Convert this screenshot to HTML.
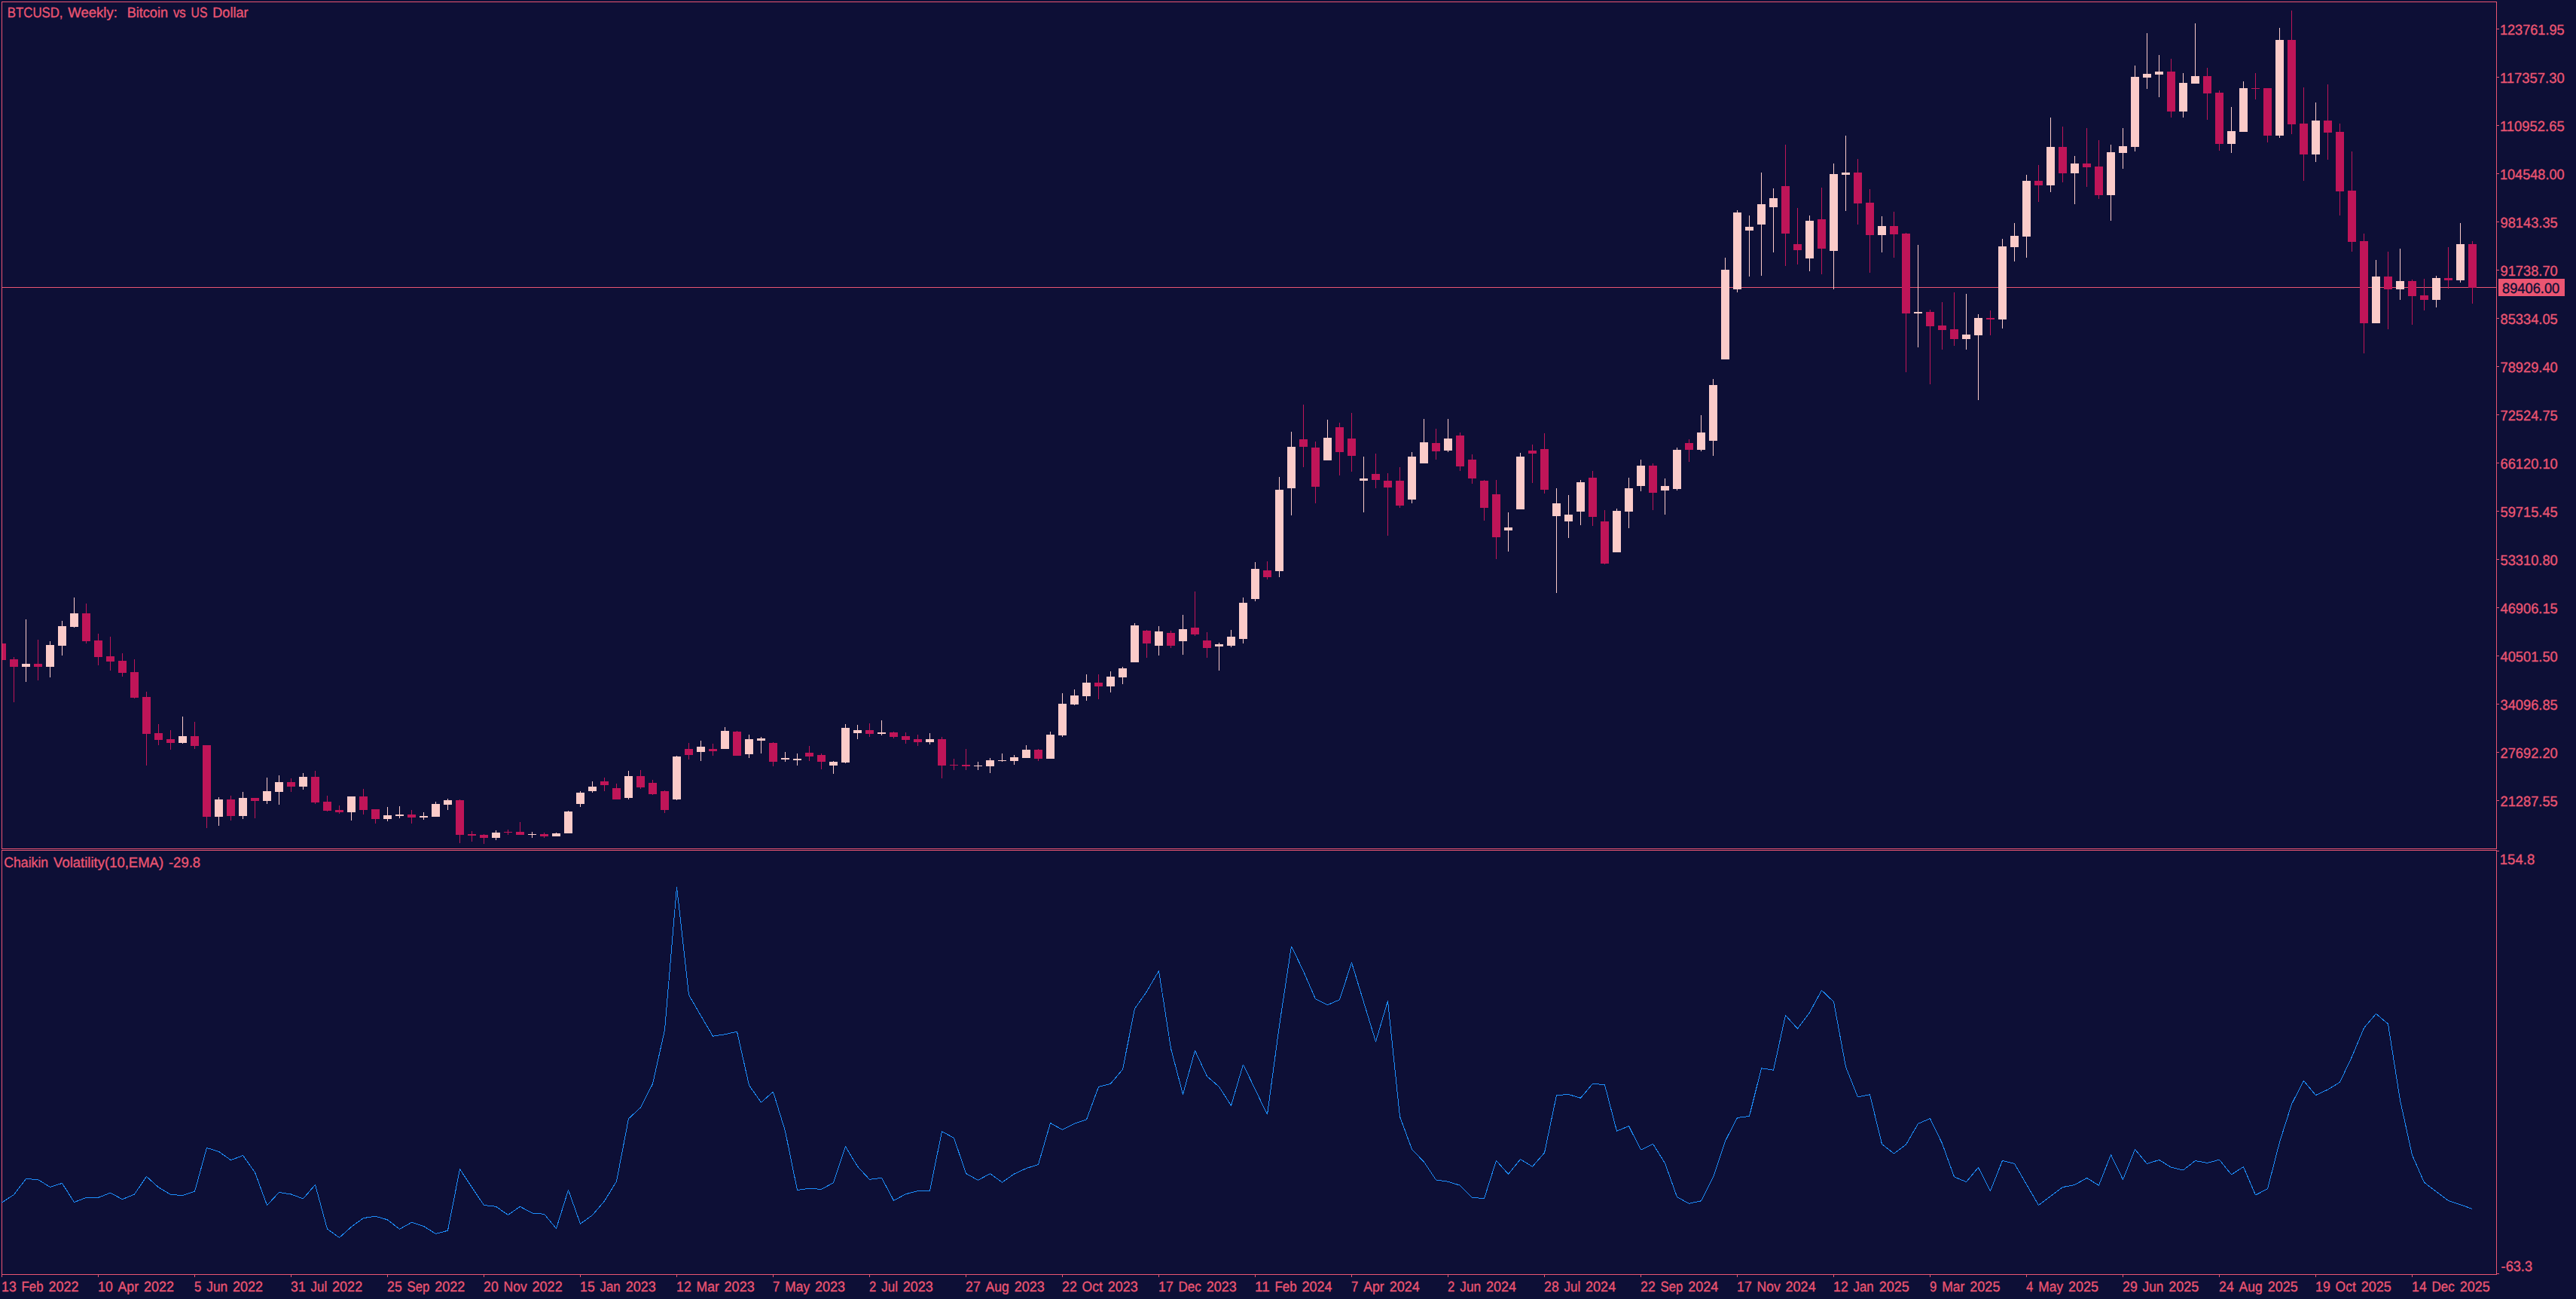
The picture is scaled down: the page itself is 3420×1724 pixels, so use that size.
<!DOCTYPE html>
<html><head><meta charset="utf-8"><title>BTCUSD, Weekly</title>
<style>html,body{margin:0;padding:0;background:#0d0f36;overflow:hidden}svg{display:block}text{font-family:"Liberation Sans",sans-serif;font-size:19.0px;fill:#ea5572;stroke:#ea5572;stroke-width:0.35px;white-space:pre;text-rendering:geometricPrecision}</style>
</head><body>
<svg width="3420" height="1724" viewBox="0 0 3420 1724">
<rect x="0" y="0" width="3420" height="1724" fill="#0d0f36"/>
<g fill="#ea5572" shape-rendering="crispEdges">
<rect x="2" y="2" width="3313" height="1"/>
<rect x="2" y="2" width="1" height="1125"/>
<rect x="3314" y="2" width="1" height="1125"/>
<rect x="2" y="1126" width="3313" height="1"/>
<rect x="2" y="1128" width="3313" height="1"/>
<rect x="2" y="1128" width="1" height="564"/>
<rect x="3314" y="1128" width="1" height="564"/>
<rect x="2" y="1691" width="3313" height="1"/>
<rect x="3" y="381" width="3311" height="1"/>
<rect x="3315" y="38" width="3" height="1"/>
<rect x="3315" y="102" width="3" height="1"/>
<rect x="3315" y="166" width="3" height="1"/>
<rect x="3315" y="230" width="3" height="1"/>
<rect x="3315" y="294" width="3" height="1"/>
<rect x="3315" y="358" width="3" height="1"/>
<rect x="3315" y="422" width="3" height="1"/>
<rect x="3315" y="486" width="3" height="1"/>
<rect x="3315" y="550" width="3" height="1"/>
<rect x="3315" y="614" width="3" height="1"/>
<rect x="3315" y="678" width="3" height="1"/>
<rect x="3315" y="742" width="3" height="1"/>
<rect x="3315" y="806" width="3" height="1"/>
<rect x="3315" y="870" width="3" height="1"/>
<rect x="3315" y="934" width="3" height="1"/>
<rect x="3315" y="998" width="3" height="1"/>
<rect x="3315" y="1062" width="3" height="1"/>
<rect x="3315" y="1129" width="3" height="1"/>
<rect x="3315" y="1690" width="3" height="1"/>
<rect x="2" y="1692" width="1" height="3"/>
<rect x="130" y="1692" width="1" height="3"/>
<rect x="258" y="1692" width="1" height="3"/>
<rect x="386" y="1692" width="1" height="3"/>
<rect x="514" y="1692" width="1" height="3"/>
<rect x="642" y="1692" width="1" height="3"/>
<rect x="770" y="1692" width="1" height="3"/>
<rect x="898" y="1692" width="1" height="3"/>
<rect x="1026" y="1692" width="1" height="3"/>
<rect x="1154" y="1692" width="1" height="3"/>
<rect x="1282" y="1692" width="1" height="3"/>
<rect x="1410" y="1692" width="1" height="3"/>
<rect x="1538" y="1692" width="1" height="3"/>
<rect x="1666" y="1692" width="1" height="3"/>
<rect x="1794" y="1692" width="1" height="3"/>
<rect x="1922" y="1692" width="1" height="3"/>
<rect x="2050" y="1692" width="1" height="3"/>
<rect x="2178" y="1692" width="1" height="3"/>
<rect x="2306" y="1692" width="1" height="3"/>
<rect x="2434" y="1692" width="1" height="3"/>
<rect x="2562" y="1692" width="1" height="3"/>
<rect x="2690" y="1692" width="1" height="3"/>
<rect x="2818" y="1692" width="1" height="3"/>
<rect x="2946" y="1692" width="1" height="3"/>
<rect x="3074" y="1692" width="1" height="3"/>
<rect x="3202" y="1692" width="1" height="3"/>
<rect x="3317" y="370" width="88" height="23"/>
</g>
<g fill="#fbcbc9" shape-rendering="crispEdges">
<rect x="34" y="822" width="1" height="83"/>
<rect x="29" y="881" width="11" height="4"/>
<rect x="66" y="851" width="1" height="48"/>
<rect x="61" y="856" width="11" height="29"/>
<rect x="82" y="824" width="1" height="46"/>
<rect x="77" y="831" width="11" height="26"/>
<rect x="98" y="793" width="1" height="40"/>
<rect x="93" y="814" width="11" height="18"/>
<rect x="242" y="951" width="1" height="36"/>
<rect x="237" y="977" width="11" height="9"/>
<rect x="290" y="1058" width="1" height="38"/>
<rect x="285" y="1061" width="11" height="23"/>
<rect x="322" y="1051" width="1" height="36"/>
<rect x="317" y="1059" width="11" height="24"/>
<rect x="354" y="1032" width="1" height="35"/>
<rect x="349" y="1050" width="11" height="13"/>
<rect x="370" y="1029" width="1" height="39"/>
<rect x="365" y="1038" width="11" height="13"/>
<rect x="402" y="1026" width="1" height="22"/>
<rect x="397" y="1031" width="11" height="13"/>
<rect x="466" y="1057" width="1" height="32"/>
<rect x="461" y="1057" width="11" height="21"/>
<rect x="514" y="1071" width="1" height="19"/>
<rect x="509" y="1082" width="11" height="5"/>
<rect x="530" y="1070" width="1" height="16"/>
<rect x="525" y="1081" width="11" height="2"/>
<rect x="562" y="1078" width="1" height="10"/>
<rect x="557" y="1083" width="11" height="2"/>
<rect x="578" y="1064" width="1" height="20"/>
<rect x="573" y="1067" width="11" height="17"/>
<rect x="594" y="1060" width="1" height="15"/>
<rect x="589" y="1062" width="11" height="6"/>
<rect x="658" y="1102" width="1" height="13"/>
<rect x="653" y="1105" width="11" height="7"/>
<rect x="706" y="1104" width="1" height="8"/>
<rect x="701" y="1107" width="11" height="1"/>
<rect x="738" y="1105" width="1" height="5"/>
<rect x="733" y="1106" width="11" height="4"/>
<rect x="754" y="1076" width="1" height="30"/>
<rect x="749" y="1077" width="11" height="29"/>
<rect x="770" y="1050" width="1" height="21"/>
<rect x="765" y="1052" width="11" height="15"/>
<rect x="786" y="1037" width="1" height="15"/>
<rect x="781" y="1044" width="11" height="6"/>
<rect x="834" y="1023" width="1" height="38"/>
<rect x="829" y="1030" width="11" height="29"/>
<rect x="898" y="1003" width="1" height="59"/>
<rect x="893" y="1004" width="11" height="57"/>
<rect x="930" y="983" width="1" height="27"/>
<rect x="925" y="991" width="11" height="7"/>
<rect x="962" y="965" width="1" height="29"/>
<rect x="957" y="970" width="11" height="24"/>
<rect x="994" y="975" width="1" height="31"/>
<rect x="989" y="981" width="11" height="20"/>
<rect x="1010" y="978" width="1" height="22"/>
<rect x="1005" y="980" width="11" height="3"/>
<rect x="1042" y="998" width="1" height="13"/>
<rect x="1037" y="1006" width="11" height="2"/>
<rect x="1058" y="1000" width="1" height="16"/>
<rect x="1053" y="1007" width="11" height="2"/>
<rect x="1106" y="1010" width="1" height="17"/>
<rect x="1101" y="1011" width="11" height="5"/>
<rect x="1122" y="961" width="1" height="52"/>
<rect x="1117" y="966" width="11" height="46"/>
<rect x="1138" y="962" width="1" height="19"/>
<rect x="1133" y="969" width="11" height="4"/>
<rect x="1170" y="956" width="1" height="20"/>
<rect x="1165" y="972" width="11" height="2"/>
<rect x="1234" y="973" width="1" height="15"/>
<rect x="1229" y="981" width="11" height="4"/>
<rect x="1298" y="1011" width="1" height="11"/>
<rect x="1293" y="1016" width="11" height="1"/>
<rect x="1314" y="1006" width="1" height="20"/>
<rect x="1309" y="1009" width="11" height="8"/>
<rect x="1330" y="1000" width="1" height="11"/>
<rect x="1325" y="1009" width="11" height="1"/>
<rect x="1346" y="1002" width="1" height="13"/>
<rect x="1341" y="1005" width="11" height="5"/>
<rect x="1362" y="989" width="1" height="17"/>
<rect x="1357" y="995" width="11" height="11"/>
<rect x="1394" y="971" width="1" height="36"/>
<rect x="1389" y="975" width="11" height="32"/>
<rect x="1410" y="920" width="1" height="58"/>
<rect x="1405" y="934" width="11" height="42"/>
<rect x="1426" y="915" width="1" height="21"/>
<rect x="1421" y="923" width="11" height="12"/>
<rect x="1442" y="895" width="1" height="35"/>
<rect x="1437" y="906" width="11" height="18"/>
<rect x="1474" y="891" width="1" height="28"/>
<rect x="1469" y="898" width="11" height="13"/>
<rect x="1490" y="885" width="1" height="23"/>
<rect x="1485" y="887" width="11" height="12"/>
<rect x="1506" y="827" width="1" height="52"/>
<rect x="1501" y="830" width="11" height="49"/>
<rect x="1538" y="831" width="1" height="39"/>
<rect x="1533" y="838" width="11" height="19"/>
<rect x="1570" y="816" width="1" height="53"/>
<rect x="1565" y="835" width="11" height="16"/>
<rect x="1618" y="853" width="1" height="37"/>
<rect x="1613" y="855" width="11" height="3"/>
<rect x="1634" y="836" width="1" height="23"/>
<rect x="1629" y="845" width="11" height="12"/>
<rect x="1650" y="793" width="1" height="61"/>
<rect x="1645" y="800" width="11" height="48"/>
<rect x="1666" y="746" width="1" height="52"/>
<rect x="1661" y="755" width="11" height="40"/>
<rect x="1698" y="633" width="1" height="133"/>
<rect x="1693" y="650" width="11" height="108"/>
<rect x="1714" y="573" width="1" height="111"/>
<rect x="1709" y="593" width="11" height="55"/>
<rect x="1762" y="557" width="1" height="54"/>
<rect x="1757" y="581" width="11" height="30"/>
<rect x="1810" y="606" width="1" height="74"/>
<rect x="1805" y="635" width="11" height="3"/>
<rect x="1874" y="600" width="1" height="68"/>
<rect x="1869" y="606" width="11" height="57"/>
<rect x="1890" y="556" width="1" height="59"/>
<rect x="1885" y="587" width="11" height="28"/>
<rect x="1922" y="556" width="1" height="44"/>
<rect x="1917" y="582" width="11" height="16"/>
<rect x="2002" y="680" width="1" height="52"/>
<rect x="1997" y="700" width="11" height="4"/>
<rect x="2018" y="601" width="1" height="75"/>
<rect x="2013" y="606" width="11" height="70"/>
<rect x="2066" y="648" width="1" height="139"/>
<rect x="2061" y="668" width="11" height="17"/>
<rect x="2082" y="657" width="1" height="57"/>
<rect x="2077" y="683" width="11" height="9"/>
<rect x="2098" y="637" width="1" height="60"/>
<rect x="2093" y="640" width="11" height="39"/>
<rect x="2146" y="675" width="1" height="58"/>
<rect x="2141" y="678" width="11" height="55"/>
<rect x="2162" y="634" width="1" height="67"/>
<rect x="2157" y="648" width="11" height="31"/>
<rect x="2178" y="610" width="1" height="42"/>
<rect x="2173" y="618" width="11" height="27"/>
<rect x="2210" y="635" width="1" height="48"/>
<rect x="2205" y="645" width="11" height="6"/>
<rect x="2226" y="594" width="1" height="57"/>
<rect x="2221" y="597" width="11" height="52"/>
<rect x="2258" y="551" width="1" height="48"/>
<rect x="2253" y="574" width="11" height="23"/>
<rect x="2274" y="503" width="1" height="102"/>
<rect x="2269" y="511" width="11" height="74"/>
<rect x="2290" y="342" width="1" height="135"/>
<rect x="2285" y="358" width="11" height="119"/>
<rect x="2306" y="279" width="1" height="109"/>
<rect x="2301" y="282" width="11" height="102"/>
<rect x="2322" y="286" width="1" height="81"/>
<rect x="2317" y="301" width="11" height="5"/>
<rect x="2338" y="229" width="1" height="137"/>
<rect x="2333" y="271" width="11" height="27"/>
<rect x="2354" y="250" width="1" height="85"/>
<rect x="2349" y="263" width="11" height="12"/>
<rect x="2402" y="286" width="1" height="74"/>
<rect x="2397" y="293" width="11" height="50"/>
<rect x="2434" y="217" width="1" height="167"/>
<rect x="2429" y="231" width="11" height="102"/>
<rect x="2450" y="180" width="1" height="100"/>
<rect x="2445" y="229" width="11" height="3"/>
<rect x="2498" y="287" width="1" height="48"/>
<rect x="2493" y="300" width="11" height="12"/>
<rect x="2546" y="325" width="1" height="136"/>
<rect x="2541" y="414" width="11" height="2"/>
<rect x="2610" y="390" width="1" height="74"/>
<rect x="2605" y="444" width="11" height="6"/>
<rect x="2626" y="417" width="1" height="114"/>
<rect x="2621" y="422" width="11" height="23"/>
<rect x="2658" y="317" width="1" height="119"/>
<rect x="2653" y="327" width="11" height="97"/>
<rect x="2674" y="296" width="1" height="51"/>
<rect x="2669" y="313" width="11" height="15"/>
<rect x="2690" y="232" width="1" height="110"/>
<rect x="2685" y="240" width="11" height="74"/>
<rect x="2722" y="156" width="1" height="99"/>
<rect x="2717" y="195" width="11" height="51"/>
<rect x="2754" y="207" width="1" height="64"/>
<rect x="2749" y="217" width="11" height="13"/>
<rect x="2802" y="192" width="1" height="101"/>
<rect x="2797" y="202" width="11" height="57"/>
<rect x="2818" y="170" width="1" height="54"/>
<rect x="2813" y="194" width="11" height="9"/>
<rect x="2834" y="87" width="1" height="114"/>
<rect x="2829" y="102" width="11" height="93"/>
<rect x="2850" y="44" width="1" height="74"/>
<rect x="2845" y="98" width="11" height="5"/>
<rect x="2866" y="73" width="1" height="56"/>
<rect x="2861" y="95" width="11" height="4"/>
<rect x="2898" y="97" width="1" height="59"/>
<rect x="2893" y="110" width="11" height="38"/>
<rect x="2914" y="31" width="1" height="80"/>
<rect x="2909" y="101" width="11" height="10"/>
<rect x="2962" y="142" width="1" height="61"/>
<rect x="2957" y="174" width="11" height="17"/>
<rect x="2978" y="108" width="1" height="67"/>
<rect x="2973" y="117" width="11" height="58"/>
<rect x="3026" y="37" width="1" height="146"/>
<rect x="3021" y="53" width="11" height="127"/>
<rect x="3074" y="136" width="1" height="79"/>
<rect x="3069" y="160" width="11" height="45"/>
<rect x="3154" y="345" width="1" height="84"/>
<rect x="3149" y="367" width="11" height="62"/>
<rect x="3186" y="330" width="1" height="68"/>
<rect x="3181" y="373" width="11" height="11"/>
<rect x="3234" y="366" width="1" height="42"/>
<rect x="3229" y="369" width="11" height="29"/>
<rect x="3266" y="296" width="1" height="79"/>
<rect x="3261" y="324" width="11" height="48"/>
</g>
<g fill="#bf1558" shape-rendering="crispEdges">
<rect x="3" y="854" width="5" height="22"/>
<rect x="18" y="872" width="1" height="60"/>
<rect x="13" y="875" width="11" height="10"/>
<rect x="50" y="849" width="1" height="54"/>
<rect x="45" y="881" width="11" height="4"/>
<rect x="114" y="801" width="1" height="53"/>
<rect x="109" y="814" width="11" height="37"/>
<rect x="130" y="841" width="1" height="42"/>
<rect x="125" y="850" width="11" height="22"/>
<rect x="146" y="845" width="1" height="45"/>
<rect x="141" y="871" width="11" height="7"/>
<rect x="162" y="867" width="1" height="31"/>
<rect x="157" y="877" width="11" height="16"/>
<rect x="178" y="875" width="1" height="52"/>
<rect x="173" y="892" width="11" height="34"/>
<rect x="194" y="918" width="1" height="98"/>
<rect x="189" y="925" width="11" height="49"/>
<rect x="210" y="961" width="1" height="28"/>
<rect x="205" y="973" width="11" height="9"/>
<rect x="226" y="969" width="1" height="26"/>
<rect x="221" y="981" width="11" height="5"/>
<rect x="258" y="958" width="1" height="36"/>
<rect x="253" y="977" width="11" height="13"/>
<rect x="274" y="989" width="1" height="110"/>
<rect x="269" y="989" width="11" height="95"/>
<rect x="306" y="1056" width="1" height="33"/>
<rect x="301" y="1061" width="11" height="22"/>
<rect x="338" y="1059" width="1" height="27"/>
<rect x="333" y="1059" width="11" height="4"/>
<rect x="386" y="1033" width="1" height="18"/>
<rect x="381" y="1038" width="11" height="6"/>
<rect x="418" y="1023" width="1" height="44"/>
<rect x="413" y="1031" width="11" height="34"/>
<rect x="434" y="1056" width="1" height="21"/>
<rect x="429" y="1064" width="11" height="12"/>
<rect x="450" y="1069" width="1" height="11"/>
<rect x="445" y="1075" width="11" height="3"/>
<rect x="482" y="1047" width="1" height="34"/>
<rect x="477" y="1057" width="11" height="18"/>
<rect x="498" y="1074" width="1" height="19"/>
<rect x="493" y="1074" width="11" height="13"/>
<rect x="546" y="1075" width="1" height="18"/>
<rect x="541" y="1081" width="11" height="4"/>
<rect x="610" y="1061" width="1" height="58"/>
<rect x="605" y="1062" width="11" height="46"/>
<rect x="626" y="1103" width="1" height="14"/>
<rect x="621" y="1107" width="11" height="2"/>
<rect x="642" y="1107" width="1" height="13"/>
<rect x="637" y="1108" width="11" height="4"/>
<rect x="674" y="1101" width="1" height="7"/>
<rect x="669" y="1104" width="11" height="1"/>
<rect x="690" y="1091" width="1" height="17"/>
<rect x="685" y="1104" width="11" height="4"/>
<rect x="722" y="1105" width="1" height="7"/>
<rect x="717" y="1107" width="11" height="3"/>
<rect x="802" y="1032" width="1" height="18"/>
<rect x="797" y="1037" width="11" height="5"/>
<rect x="818" y="1040" width="1" height="21"/>
<rect x="813" y="1046" width="11" height="15"/>
<rect x="850" y="1022" width="1" height="25"/>
<rect x="845" y="1030" width="11" height="15"/>
<rect x="866" y="1035" width="1" height="20"/>
<rect x="861" y="1039" width="11" height="15"/>
<rect x="882" y="1049" width="1" height="30"/>
<rect x="877" y="1050" width="11" height="25"/>
<rect x="914" y="986" width="1" height="22"/>
<rect x="909" y="994" width="11" height="8"/>
<rect x="946" y="987" width="1" height="16"/>
<rect x="941" y="994" width="11" height="3"/>
<rect x="978" y="970" width="1" height="33"/>
<rect x="973" y="971" width="11" height="32"/>
<rect x="1026" y="985" width="1" height="32"/>
<rect x="1021" y="986" width="11" height="25"/>
<rect x="1074" y="990" width="1" height="20"/>
<rect x="1069" y="999" width="11" height="5"/>
<rect x="1090" y="1000" width="1" height="21"/>
<rect x="1085" y="1002" width="11" height="9"/>
<rect x="1154" y="960" width="1" height="18"/>
<rect x="1149" y="969" width="11" height="5"/>
<rect x="1186" y="971" width="1" height="9"/>
<rect x="1181" y="972" width="11" height="6"/>
<rect x="1202" y="972" width="1" height="15"/>
<rect x="1197" y="977" width="11" height="5"/>
<rect x="1218" y="975" width="1" height="15"/>
<rect x="1213" y="981" width="11" height="4"/>
<rect x="1250" y="978" width="1" height="55"/>
<rect x="1245" y="981" width="11" height="35"/>
<rect x="1266" y="1007" width="1" height="15"/>
<rect x="1261" y="1015" width="11" height="1"/>
<rect x="1282" y="994" width="1" height="28"/>
<rect x="1277" y="1015" width="11" height="2"/>
<rect x="1378" y="994" width="1" height="16"/>
<rect x="1373" y="995" width="11" height="12"/>
<rect x="1458" y="895" width="1" height="33"/>
<rect x="1453" y="906" width="11" height="5"/>
<rect x="1522" y="836" width="1" height="37"/>
<rect x="1517" y="837" width="11" height="17"/>
<rect x="1554" y="837" width="1" height="23"/>
<rect x="1549" y="840" width="11" height="17"/>
<rect x="1586" y="785" width="1" height="59"/>
<rect x="1581" y="833" width="11" height="9"/>
<rect x="1602" y="839" width="1" height="34"/>
<rect x="1597" y="850" width="11" height="10"/>
<rect x="1682" y="745" width="1" height="24"/>
<rect x="1677" y="757" width="11" height="9"/>
<rect x="1730" y="537" width="1" height="83"/>
<rect x="1725" y="583" width="11" height="10"/>
<rect x="1746" y="586" width="1" height="82"/>
<rect x="1741" y="594" width="11" height="52"/>
<rect x="1778" y="561" width="1" height="70"/>
<rect x="1773" y="567" width="11" height="33"/>
<rect x="1794" y="548" width="1" height="78"/>
<rect x="1789" y="582" width="11" height="23"/>
<rect x="1826" y="602" width="1" height="46"/>
<rect x="1821" y="629" width="11" height="8"/>
<rect x="1842" y="628" width="1" height="83"/>
<rect x="1837" y="638" width="11" height="9"/>
<rect x="1858" y="620" width="1" height="54"/>
<rect x="1853" y="638" width="11" height="33"/>
<rect x="1906" y="569" width="1" height="41"/>
<rect x="1901" y="588" width="11" height="11"/>
<rect x="1938" y="574" width="1" height="51"/>
<rect x="1933" y="578" width="11" height="41"/>
<rect x="1954" y="603" width="1" height="39"/>
<rect x="1949" y="610" width="11" height="25"/>
<rect x="1970" y="637" width="1" height="54"/>
<rect x="1965" y="638" width="11" height="36"/>
<rect x="1986" y="637" width="1" height="105"/>
<rect x="1981" y="656" width="11" height="57"/>
<rect x="2034" y="590" width="1" height="51"/>
<rect x="2029" y="598" width="11" height="4"/>
<rect x="2050" y="575" width="1" height="80"/>
<rect x="2045" y="596" width="11" height="54"/>
<rect x="2114" y="625" width="1" height="73"/>
<rect x="2109" y="634" width="11" height="52"/>
<rect x="2130" y="677" width="1" height="72"/>
<rect x="2125" y="692" width="11" height="56"/>
<rect x="2194" y="615" width="1" height="62"/>
<rect x="2189" y="618" width="11" height="36"/>
<rect x="2242" y="583" width="1" height="30"/>
<rect x="2237" y="588" width="11" height="9"/>
<rect x="2370" y="192" width="1" height="161"/>
<rect x="2365" y="247" width="11" height="63"/>
<rect x="2386" y="276" width="1" height="75"/>
<rect x="2381" y="324" width="11" height="8"/>
<rect x="2418" y="249" width="1" height="115"/>
<rect x="2413" y="291" width="11" height="39"/>
<rect x="2466" y="211" width="1" height="87"/>
<rect x="2461" y="229" width="11" height="41"/>
<rect x="2482" y="251" width="1" height="111"/>
<rect x="2477" y="269" width="11" height="43"/>
<rect x="2514" y="281" width="1" height="61"/>
<rect x="2509" y="300" width="11" height="11"/>
<rect x="2530" y="309" width="1" height="185"/>
<rect x="2525" y="310" width="11" height="106"/>
<rect x="2562" y="411" width="1" height="99"/>
<rect x="2557" y="414" width="11" height="19"/>
<rect x="2578" y="401" width="1" height="63"/>
<rect x="2573" y="432" width="11" height="6"/>
<rect x="2594" y="388" width="1" height="71"/>
<rect x="2589" y="437" width="11" height="13"/>
<rect x="2642" y="412" width="1" height="33"/>
<rect x="2637" y="422" width="11" height="2"/>
<rect x="2706" y="219" width="1" height="49"/>
<rect x="2701" y="240" width="11" height="6"/>
<rect x="2738" y="168" width="1" height="74"/>
<rect x="2733" y="195" width="11" height="35"/>
<rect x="2770" y="170" width="1" height="78"/>
<rect x="2765" y="217" width="11" height="5"/>
<rect x="2786" y="186" width="1" height="78"/>
<rect x="2781" y="221" width="11" height="38"/>
<rect x="2882" y="78" width="1" height="78"/>
<rect x="2877" y="95" width="11" height="53"/>
<rect x="2930" y="90" width="1" height="69"/>
<rect x="2925" y="101" width="11" height="23"/>
<rect x="2946" y="120" width="1" height="80"/>
<rect x="2941" y="123" width="11" height="68"/>
<rect x="2994" y="97" width="1" height="35"/>
<rect x="2989" y="117" width="11" height="1"/>
<rect x="3010" y="117" width="1" height="72"/>
<rect x="3005" y="117" width="11" height="63"/>
<rect x="3042" y="14" width="1" height="164"/>
<rect x="3037" y="53" width="11" height="112"/>
<rect x="3058" y="116" width="1" height="124"/>
<rect x="3053" y="164" width="11" height="41"/>
<rect x="3090" y="112" width="1" height="100"/>
<rect x="3085" y="160" width="11" height="16"/>
<rect x="3106" y="164" width="1" height="122"/>
<rect x="3101" y="175" width="11" height="79"/>
<rect x="3122" y="201" width="1" height="133"/>
<rect x="3117" y="253" width="11" height="68"/>
<rect x="3138" y="310" width="1" height="159"/>
<rect x="3133" y="320" width="11" height="109"/>
<rect x="3170" y="334" width="1" height="103"/>
<rect x="3165" y="367" width="11" height="17"/>
<rect x="3202" y="371" width="1" height="60"/>
<rect x="3197" y="373" width="11" height="20"/>
<rect x="3218" y="370" width="1" height="42"/>
<rect x="3213" y="392" width="11" height="6"/>
<rect x="3250" y="328" width="1" height="55"/>
<rect x="3245" y="369" width="11" height="3"/>
<rect x="3282" y="320" width="1" height="83"/>
<rect x="3277" y="324" width="11" height="58"/>
</g>
<polyline points="2.5,1596 18.5,1585.5 34.5,1564.5 50.5,1565.6 66.5,1575.4 82.5,1570.4 98.5,1595.6 114.5,1589.4 130.5,1589.4 146.5,1583.2 162.5,1591.7 178.5,1585 194.5,1561.4 210.5,1575.9 226.5,1585.3 242.5,1586.6 258.5,1581.3 274.5,1523.4 290.5,1528.4 306.5,1539.7 322.5,1533.5 338.5,1556 354.5,1599.6 370.5,1582.5 386.5,1585 402.5,1590.9 418.5,1572.3 434.5,1631 450.5,1642.6 466.5,1628.2 482.5,1616.6 498.5,1614.2 514.5,1618.9 530.5,1631.3 546.5,1622.3 562.5,1627.4 578.5,1637.5 594.5,1633.2 610.5,1551.5 626.5,1575.9 642.5,1599.5 658.5,1601.3 674.5,1612.5 690.5,1601.3 706.5,1610 722.5,1611.3 738.5,1630.5 754.5,1579.3 770.5,1624.3 786.5,1612.7 802.5,1594 818.5,1567.9 834.5,1484.7 850.5,1469.9 866.5,1438.5 882.5,1367 898.5,1177 914.5,1320.4 930.5,1348 946.5,1375.2 962.5,1372.7 978.5,1369.2 994.5,1440.4 1010.5,1463.1 1026.5,1449 1042.5,1501.3 1058.5,1579.5 1074.5,1577.3 1090.5,1578.4 1106.5,1569.7 1122.5,1521.7 1138.5,1548.1 1154.5,1565.4 1170.5,1563.2 1186.5,1593.3 1202.5,1584.8 1218.5,1580.5 1234.5,1580.1 1250.5,1501.6 1266.5,1510.3 1282.5,1557.4 1298.5,1566.3 1314.5,1557.6 1330.5,1569.2 1346.5,1558 1362.5,1550.6 1378.5,1545.6 1394.5,1490.5 1410.5,1499.4 1426.5,1491.3 1442.5,1485.9 1458.5,1442.4 1474.5,1438.3 1490.5,1419.3 1506.5,1338.8 1522.5,1315.8 1538.5,1288.4 1554.5,1391.5 1570.5,1452.4 1586.5,1394.3 1602.5,1428.5 1618.5,1442.3 1634.5,1467.3 1650.5,1412.7 1666.5,1446 1682.5,1479.3 1698.5,1361 1714.5,1255.7 1730.5,1289 1746.5,1325.9 1762.5,1333.7 1778.5,1326.8 1794.5,1277.5 1810.5,1330 1826.5,1382.5 1842.5,1328.5 1858.5,1482 1874.5,1525.2 1890.5,1542.1 1906.5,1565.9 1922.5,1568.2 1938.5,1573.3 1954.5,1589.4 1970.5,1590.6 1986.5,1540.3 2002.5,1558.3 2018.5,1538.6 2034.5,1548.3 2050.5,1529.9 2066.5,1453.6 2082.5,1452.5 2098.5,1457.3 2114.5,1438.2 2130.5,1439.8 2146.5,1501.2 2162.5,1494.5 2178.5,1526.1 2194.5,1518.2 2210.5,1543.8 2226.5,1588.7 2242.5,1597.3 2258.5,1593.8 2274.5,1562.3 2290.5,1514.3 2306.5,1483.5 2322.5,1481.5 2338.5,1417.7 2354.5,1420.2 2370.5,1347.5 2386.5,1365.3 2402.5,1343.8 2418.5,1314.3 2434.5,1329.6 2450.5,1415.8 2466.5,1455.9 2482.5,1452.7 2498.5,1518.5 2514.5,1531 2530.5,1519 2546.5,1491.4 2562.5,1484.5 2578.5,1517.6 2594.5,1561.9 2610.5,1568.6 2626.5,1549.5 2642.5,1580.5 2658.5,1540.3 2674.5,1544.3 2690.5,1572 2706.5,1599.5 2722.5,1587.5 2738.5,1575.6 2754.5,1572.5 2770.5,1563.4 2786.5,1573.2 2802.5,1532.5 2818.5,1565.5 2834.5,1525.4 2850.5,1544.5 2866.5,1539.4 2882.5,1549.2 2898.5,1553 2914.5,1540.5 2930.5,1543.4 2946.5,1539.2 2962.5,1558.9 2978.5,1548.6 2994.5,1586 3010.5,1577.9 3026.5,1515.8 3042.5,1465.3 3058.5,1434.5 3074.5,1453.5 3090.5,1446.1 3106.5,1436.3 3122.5,1402.5 3138.5,1364.3 3154.5,1345.4 3170.5,1358.9 3186.5,1460.4 3202.5,1533.1 3218.5,1569.3 3234.5,1581.6 3250.5,1593.4 3266.5,1598.8 3282.5,1604.5" fill="none" stroke="#1e90ff" stroke-width="1" stroke-linejoin="bevel" shape-rendering="crispEdges"/>
<text x="9.8" y="22.8" textLength="73.7" lengthAdjust="spacingAndGlyphs">BTCUSD,</text><text x="90.37" y="22.8" textLength="65.5" lengthAdjust="spacingAndGlyphs">Weekly:</text><text x="168.64" y="22.8" textLength="54.4" lengthAdjust="spacingAndGlyphs">Bitcoin</text><text x="229.91" y="22.8" textLength="16.8" lengthAdjust="spacingAndGlyphs">vs</text><text x="253.57" y="22.8" textLength="21.8" lengthAdjust="spacingAndGlyphs">US</text><text x="282.29" y="22.8" textLength="47.3" lengthAdjust="spacingAndGlyphs">Dollar</text>
<text x="5.3" y="1150.8" textLength="58.9" lengthAdjust="spacingAndGlyphs">Chaikin</text><text x="71.11" y="1150.8" textLength="146.0" lengthAdjust="spacingAndGlyphs">Volatility(10,EMA)</text><text x="223.94" y="1150.8" textLength="42.2" lengthAdjust="spacingAndGlyphs">-29.8</text>
<text x="3318.9" y="45.6" textLength="85.8" lengthAdjust="spacingAndGlyphs">123761.95</text>
<text x="3318.9" y="109.6" textLength="85.8" lengthAdjust="spacingAndGlyphs">117357.30</text>
<text x="3318.9" y="173.6" textLength="85.8" lengthAdjust="spacingAndGlyphs">110952.65</text>
<text x="3318.9" y="237.6" textLength="85.8" lengthAdjust="spacingAndGlyphs">104548.00</text>
<text x="3319.5" y="301.6" textLength="76.2" lengthAdjust="spacingAndGlyphs">98143.35</text>
<text x="3319.5" y="365.6" textLength="76.2" lengthAdjust="spacingAndGlyphs">91738.70</text>
<text x="3319.5" y="429.6" textLength="76.2" lengthAdjust="spacingAndGlyphs">85334.05</text>
<text x="3319.5" y="493.6" textLength="76.2" lengthAdjust="spacingAndGlyphs">78929.40</text>
<text x="3319.5" y="557.6" textLength="76.2" lengthAdjust="spacingAndGlyphs">72524.75</text>
<text x="3319.5" y="621.6" textLength="76.2" lengthAdjust="spacingAndGlyphs">66120.10</text>
<text x="3319.5" y="685.6" textLength="76.2" lengthAdjust="spacingAndGlyphs">59715.45</text>
<text x="3319.5" y="749.6" textLength="76.2" lengthAdjust="spacingAndGlyphs">53310.80</text>
<text x="3319.5" y="813.6" textLength="76.2" lengthAdjust="spacingAndGlyphs">46906.15</text>
<text x="3319.5" y="877.6" textLength="76.2" lengthAdjust="spacingAndGlyphs">40501.50</text>
<text x="3319.5" y="941.6" textLength="76.2" lengthAdjust="spacingAndGlyphs">34096.85</text>
<text x="3319.5" y="1005.6" textLength="76.2" lengthAdjust="spacingAndGlyphs">27692.20</text>
<text x="3319.5" y="1069.6" textLength="76.2" lengthAdjust="spacingAndGlyphs">21287.55</text>
<text x="3322" y="388.8" textLength="76.2" lengthAdjust="spacingAndGlyphs" style="fill:#0d0f36;stroke:#0d0f36">89406.00</text>
<text x="3318.8" y="1146.8" textLength="46.4" lengthAdjust="spacingAndGlyphs">154.8</text>
<text x="3320.6" y="1686.8" textLength="41.4" lengthAdjust="spacingAndGlyphs">-63.3</text>
<text x="2.1" y="1713.8" textLength="19.6" lengthAdjust="spacingAndGlyphs">13</text><text x="28.54" y="1713.8" textLength="29.1" lengthAdjust="spacingAndGlyphs">Feb</text><text x="64.54" y="1713.8" textLength="40.1" lengthAdjust="spacingAndGlyphs">2022</text>
<text x="130.1" y="1713.8" textLength="19.6" lengthAdjust="spacingAndGlyphs">10</text><text x="156.54" y="1713.8" textLength="27.5" lengthAdjust="spacingAndGlyphs">Apr</text><text x="190.91" y="1713.8" textLength="40.1" lengthAdjust="spacingAndGlyphs">2022</text>
<text x="258.1" y="1713.8" textLength="9.3" lengthAdjust="spacingAndGlyphs">5</text><text x="274.27" y="1713.8" textLength="27.9" lengthAdjust="spacingAndGlyphs">Jun</text><text x="309.01" y="1713.8" textLength="40.1" lengthAdjust="spacingAndGlyphs">2022</text>
<text x="386.1" y="1713.8" textLength="19.6" lengthAdjust="spacingAndGlyphs">31</text><text x="412.54" y="1713.8" textLength="21.7" lengthAdjust="spacingAndGlyphs">Jul</text><text x="441.09" y="1713.8" textLength="40.1" lengthAdjust="spacingAndGlyphs">2022</text>
<text x="514.1" y="1713.8" textLength="19.6" lengthAdjust="spacingAndGlyphs">25</text><text x="540.54" y="1713.8" textLength="29.8" lengthAdjust="spacingAndGlyphs">Sep</text><text x="577.22" y="1713.8" textLength="40.1" lengthAdjust="spacingAndGlyphs">2022</text>
<text x="642.1" y="1713.8" textLength="19.6" lengthAdjust="spacingAndGlyphs">20</text><text x="668.54" y="1713.8" textLength="31.1" lengthAdjust="spacingAndGlyphs">Nov</text><text x="706.58" y="1713.8" textLength="40.1" lengthAdjust="spacingAndGlyphs">2022</text>
<text x="770.1" y="1713.8" textLength="19.6" lengthAdjust="spacingAndGlyphs">15</text><text x="796.54" y="1713.8" textLength="27.2" lengthAdjust="spacingAndGlyphs">Jan</text><text x="830.66" y="1713.8" textLength="40.1" lengthAdjust="spacingAndGlyphs">2023</text>
<text x="898.1" y="1713.8" textLength="19.6" lengthAdjust="spacingAndGlyphs">12</text><text x="924.54" y="1713.8" textLength="30.2" lengthAdjust="spacingAndGlyphs">Mar</text><text x="961.6" y="1713.8" textLength="40.1" lengthAdjust="spacingAndGlyphs">2023</text>
<text x="1026.1" y="1713.8" textLength="9.3" lengthAdjust="spacingAndGlyphs">7</text><text x="1042.27" y="1713.8" textLength="32.8" lengthAdjust="spacingAndGlyphs">May</text><text x="1081.92" y="1713.8" textLength="40.1" lengthAdjust="spacingAndGlyphs">2023</text>
<text x="1154.1" y="1713.8" textLength="9.3" lengthAdjust="spacingAndGlyphs">2</text><text x="1170.27" y="1713.8" textLength="21.7" lengthAdjust="spacingAndGlyphs">Jul</text><text x="1198.81" y="1713.8" textLength="40.1" lengthAdjust="spacingAndGlyphs">2023</text>
<text x="1282.1" y="1713.8" textLength="19.6" lengthAdjust="spacingAndGlyphs">27</text><text x="1308.54" y="1713.8" textLength="31.2" lengthAdjust="spacingAndGlyphs">Aug</text><text x="1346.63" y="1713.8" textLength="40.1" lengthAdjust="spacingAndGlyphs">2023</text>
<text x="1410.1" y="1713.8" textLength="19.6" lengthAdjust="spacingAndGlyphs">22</text><text x="1436.54" y="1713.8" textLength="27.3" lengthAdjust="spacingAndGlyphs">Oct</text><text x="1470.72" y="1713.8" textLength="40.1" lengthAdjust="spacingAndGlyphs">2023</text>
<text x="1538.1" y="1713.8" textLength="19.6" lengthAdjust="spacingAndGlyphs">17</text><text x="1564.54" y="1713.8" textLength="30.3" lengthAdjust="spacingAndGlyphs">Dec</text><text x="1601.77" y="1713.8" textLength="40.1" lengthAdjust="spacingAndGlyphs">2023</text>
<text x="1666.1" y="1713.8" textLength="19.6" lengthAdjust="spacingAndGlyphs">11</text><text x="1692.54" y="1713.8" textLength="29.1" lengthAdjust="spacingAndGlyphs">Feb</text><text x="1728.54" y="1713.8" textLength="40.1" lengthAdjust="spacingAndGlyphs">2024</text>
<text x="1794.1" y="1713.8" textLength="9.3" lengthAdjust="spacingAndGlyphs">7</text><text x="1810.27" y="1713.8" textLength="27.5" lengthAdjust="spacingAndGlyphs">Apr</text><text x="1844.63" y="1713.8" textLength="40.1" lengthAdjust="spacingAndGlyphs">2024</text>
<text x="1922.1" y="1713.8" textLength="9.3" lengthAdjust="spacingAndGlyphs">2</text><text x="1938.27" y="1713.8" textLength="27.9" lengthAdjust="spacingAndGlyphs">Jun</text><text x="1973.01" y="1713.8" textLength="40.1" lengthAdjust="spacingAndGlyphs">2024</text>
<text x="2050.1" y="1713.8" textLength="19.6" lengthAdjust="spacingAndGlyphs">28</text><text x="2076.54" y="1713.8" textLength="21.7" lengthAdjust="spacingAndGlyphs">Jul</text><text x="2105.09" y="1713.8" textLength="40.1" lengthAdjust="spacingAndGlyphs">2024</text>
<text x="2178.1" y="1713.8" textLength="19.6" lengthAdjust="spacingAndGlyphs">22</text><text x="2204.54" y="1713.8" textLength="29.8" lengthAdjust="spacingAndGlyphs">Sep</text><text x="2241.22" y="1713.8" textLength="40.1" lengthAdjust="spacingAndGlyphs">2024</text>
<text x="2306.1" y="1713.8" textLength="19.6" lengthAdjust="spacingAndGlyphs">17</text><text x="2332.54" y="1713.8" textLength="31.1" lengthAdjust="spacingAndGlyphs">Nov</text><text x="2370.58" y="1713.8" textLength="40.1" lengthAdjust="spacingAndGlyphs">2024</text>
<text x="2434.1" y="1713.8" textLength="19.6" lengthAdjust="spacingAndGlyphs">12</text><text x="2460.54" y="1713.8" textLength="27.2" lengthAdjust="spacingAndGlyphs">Jan</text><text x="2494.66" y="1713.8" textLength="40.1" lengthAdjust="spacingAndGlyphs">2025</text>
<text x="2562.1" y="1713.8" textLength="9.3" lengthAdjust="spacingAndGlyphs">9</text><text x="2578.27" y="1713.8" textLength="30.2" lengthAdjust="spacingAndGlyphs">Mar</text><text x="2615.32" y="1713.8" textLength="40.1" lengthAdjust="spacingAndGlyphs">2025</text>
<text x="2690.1" y="1713.8" textLength="9.3" lengthAdjust="spacingAndGlyphs">4</text><text x="2706.27" y="1713.8" textLength="32.8" lengthAdjust="spacingAndGlyphs">May</text><text x="2745.92" y="1713.8" textLength="40.1" lengthAdjust="spacingAndGlyphs">2025</text>
<text x="2818.1" y="1713.8" textLength="19.6" lengthAdjust="spacingAndGlyphs">29</text><text x="2844.54" y="1713.8" textLength="27.9" lengthAdjust="spacingAndGlyphs">Jun</text><text x="2879.28" y="1713.8" textLength="40.1" lengthAdjust="spacingAndGlyphs">2025</text>
<text x="2946.1" y="1713.8" textLength="19.6" lengthAdjust="spacingAndGlyphs">24</text><text x="2972.54" y="1713.8" textLength="31.2" lengthAdjust="spacingAndGlyphs">Aug</text><text x="3010.63" y="1713.8" textLength="40.1" lengthAdjust="spacingAndGlyphs">2025</text>
<text x="3074.1" y="1713.8" textLength="19.6" lengthAdjust="spacingAndGlyphs">19</text><text x="3100.54" y="1713.8" textLength="27.3" lengthAdjust="spacingAndGlyphs">Oct</text><text x="3134.72" y="1713.8" textLength="40.1" lengthAdjust="spacingAndGlyphs">2025</text>
<text x="3202.1" y="1713.8" textLength="19.6" lengthAdjust="spacingAndGlyphs">14</text><text x="3228.54" y="1713.8" textLength="30.3" lengthAdjust="spacingAndGlyphs">Dec</text><text x="3265.77" y="1713.8" textLength="40.1" lengthAdjust="spacingAndGlyphs">2025</text>
</svg></body></html>
